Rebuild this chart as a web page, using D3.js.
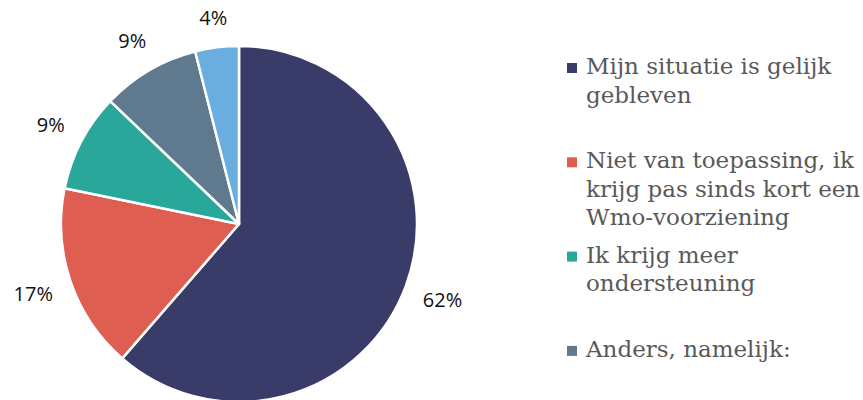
<!DOCTYPE html>
<html>
<head>
<meta charset="utf-8">
<script src="https://cdn.jsdelivr.net/npm/d3@7"></script>
<style>
  html, body { margin: 0; padding: 0; background: #ffffff; }
  svg { display: block; }
</style>
</head>
<body>
<svg id="chart" width="863" height="400"></svg>
<script>
// Answer categories
const categories = [
  "Mijn situatie is gelijk gebleven",
  "Niet van toepassing, ik krijg pas sinds kort een Wmo-voorziening",
  "Ik krijg meer ondersteuning",
  "Anders, namelijk:",
  "Ik krijg minder ondersteuning"
];
// Legend text, split into lines (the last entry falls below the visible area)
const legendLines = [
  ["Mijn situatie is gelijk", "gebleven"],
  ["Niet van toepassing, ik", "krijg pas sinds kort een", "Wmo-voorziening"],
  ["Ik krijg meer", "ondersteuning"],
  ["Anders, namelijk:"]
];
// Share of respondents, in percent
const values = [62, 17, 9, 9, 4];
const colors = ["#393b68", "#de5e52", "#2aa79b", "#5f7a8f", "#6aaee0"];

const svg = d3.select("#chart");
const cx = 239, cy = 224, radius = 178, labelGap = 17;

const pie = d3.pie().sort(null).value(d => d.value);
const data = values.map((v, i) => ({ value: v, name: categories[i], color: colors[i] }));
const arcs = pie(data);

const arc = d3.arc().innerRadius(0).outerRadius(radius);

const g = svg.append("g").attr("transform", `translate(${cx},${cy})`);

g.selectAll("path.slice")
  .data(arcs)
  .join("path")
  .attr("class", "slice")
  .attr("d", arc)
  .attr("fill", d => d.data.color)
  .attr("stroke", "#ffffff")
  .attr("stroke-width", 2.5)
  .attr("stroke-linejoin", "round");

// Percentage labels placed just outside the rim; the label box touches a ring
const labels = g.selectAll("text.pct")
  .data(arcs)
  .join("text")
  .attr("class", "pct")
  .attr("text-anchor", "middle")
  .attr("dy", "0.35em")
  .attr("font-family", "'Open Sans', sans-serif")
  .attr("font-size", 20)
  .attr("fill", "#111111")
  .text(d => d.data.value + "%");

labels.each(function(d) {
  const w = this.getComputedTextLength();
  const halfW = w / 2, halfH = 11;
  const a = (d.startAngle + d.endAngle) / 2;
  const s = Math.sin(a), c = Math.cos(a);
  const dist = radius + labelGap + Math.abs(s) * halfW + Math.abs(c) * halfH;
  d3.select(this).attr("transform", `translate(${s * dist},${-c * dist})`);
});

// Legend
const legendX = 567, legendTextX = 586, legendTop = 74, slot = 94.3, lineH = 28.5;
const legend = svg.append("g");
const items = legend.selectAll("g.item")
  .data(data.slice(0, legendLines.length))
  .join("g")
  .attr("class", "item")
  .attr("transform", (d, i) => `translate(0,${legendTop + i * slot})`);

items.append("rect")
  .attr("x", legendX)
  .attr("y", -11)
  .attr("width", 10)
  .attr("height", 10)
  .attr("fill", d => d.color);

items.append("text")
  .attr("x", legendTextX)
  .attr("font-family", "'DejaVu Serif', serif")
  .attr("font-size", 23)
  .attr("fill", "#595959")
  .selectAll("tspan")
  .data((d, i) => legendLines[i])
  .join("tspan")
  .attr("x", legendTextX)
  .attr("y", (d, j) => j * lineH)
  .text(d => d);
</script>
</body>
</html>
